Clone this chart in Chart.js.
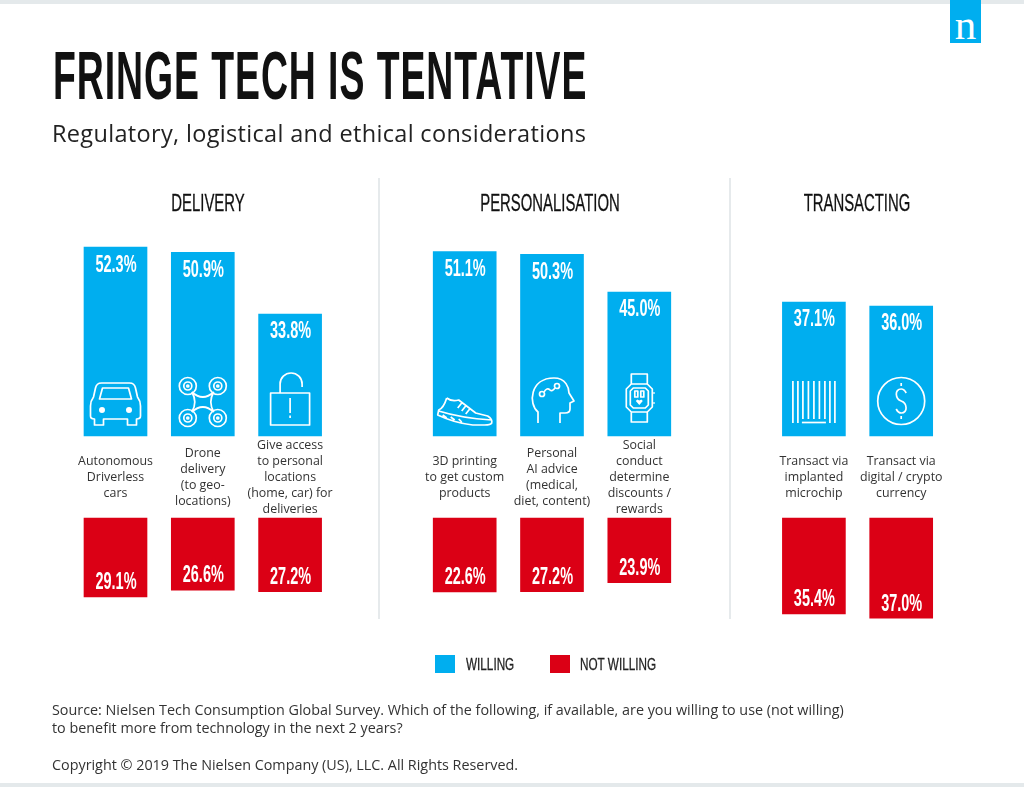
<!DOCTYPE html>
<html>
<head>
<meta charset="utf-8">
<title>Fringe tech is tentative</title>
<script src="https://cdn.jsdelivr.net/npm/chart.js@4"></script>
<style>
  html, body { margin: 0; padding: 0; background: #fff; }
  #page { position: relative; width: 1024px; height: 787px; overflow: hidden; font-family: "Open Sans", sans-serif; color: #222; }
  #page div { position: absolute; white-space: nowrap; }
  canvas { position: absolute; left: 0; top: 0; }
  .cond { font-family: "Liberation Sans Narrow", "Liberation Sans", sans-serif; transform-origin: left top; }
  .stripe { left: 0; width: 1024px; height: 4px; background: #e4e9eb; }
  .rule { top: 178px; width: 2px; height: 441px; background: #e6eaec; }
  .head { font-size: 24px; line-height: 24px; top: 191px; color: #111; -webkit-text-stroke: .3px #111; transform: translateX(-50%) scaleX(.62); transform-origin: center top; }
  .swatch { top: 655px; width: 20px; height: 18px; }
  .key { font-size: 17px; line-height: 17px; top: 656px; color: #222; -webkit-text-stroke: .3px #222; transform: scaleX(.69); }
  .src { left: 52px; font-size: 14.35px; line-height: 18px; color: #333; }
</style>
</head>
<body>
<div id="page">
  <div class="stripe" style="top:0"></div>
  <div class="stripe" style="top:783px"></div>
  <div style="left:950px;top:0;width:31px;height:43px;background:#00aeef"></div>
  <div style="left:950px;top:0;width:31px;height:43px;text-align:center;color:#fff;font:43px/50px 'Liberation Serif',serif">n</div>

  <canvas id="chart" width="1024" height="787"></canvas>

  <div class="cond" style="left:53px;top:37px;font-size:68px;line-height:76px;font-weight:bold;letter-spacing:1.7px;color:#111;transform:scaleX(.55)">FRINGE TECH IS TENTATIVE</div>
  <div style="left:52px;top:118px;font-size:23.5px;line-height:30px;letter-spacing:.33px;color:#222">Regulatory, logistical and ethical considerations</div>

  <div class="rule" style="left:378px"></div>
  <div class="rule" style="left:729px"></div>
  <div class="cond head" style="left:208px">DELIVERY</div>
  <div class="cond head" style="left:550px">PERSONALISATION</div>
  <div class="cond head" style="left:857px">TRANSACTING</div>

  <div class="swatch" style="left:435px;background:#00aeef"></div>
  <div class="cond key" style="left:466px">WILLING</div>
  <div class="swatch" style="left:550px;background:#db0015"></div>
  <div class="cond key" style="left:580px">NOT WILLING</div>

  <div class="src" style="top:701px">Source: Nielsen Tech Consumption Global Survey. Which of the following, if available, are you willing to use (not willing)</div>
  <div class="src" style="top:719px">to benefit more from technology in the next 2 years?</div>
  <div class="src" style="top:756px">Copyright © 2019 The Nielsen Company (US), LLC. All Rights Reserved.</div>
</div>

<script>
// empty slots are the gaps between the three groups
const categories = ['Autonomous', 'Drone', 'Access', '', '3D printing', 'AI advice', 'Social conduct', '', 'Microchip', 'Crypto'];
// bar lengths as drawn in the picture; two bars there do not follow their printed label
const willing = [52.3, 50.9, 33.8, null, 51.1, 50.3, 39.9, null, 37.1, 36.0];
const notWilling = [29.1, 26.6, 27.2, null, 27.3, 27.2, 23.9, null, 35.4, 37.0];
const willingLabels = ['52.3%', '50.9%', '33.8%', '', '51.1%', '50.3%', '45.0%', '', '37.1%', '36.0%'];
const notWillingLabels = ['29.1%', '26.6%', '27.2%', '', '22.6%', '27.2%', '23.9%', '', '35.4%', '37.0%'];
const captions = [
  ['Autonomous', 'Driverless', 'cars'],
  ['Drone', 'delivery', '(to geo-', 'locations)'],
  ['Give access', 'to personal', 'locations', '(home, car) for', 'deliveries'],
  [],
  ['3D printing', 'to get custom', 'products'],
  ['Personal', 'AI advice', '(medical,', 'diet, content)'],
  ['Social', 'conduct', 'determine', 'discounts /', 'rewards'],
  [],
  ['Transact via', 'implanted', 'microchip'],
  ['Transact via', 'digital / crypto', 'currency']
];

const BLUE = '#00aeef';
const RED = '#db0015';

// chart area in page pixels, and where each bar family starts
const areaTop = 230, areaBottom = 630;
const willingBase = 436, notWillingBase = 518;
const willingPx = 3.61, notWillingPx = 2.71;

function line(ctx, x1, y1, x2, y2) {
  ctx.beginPath();
  ctx.moveTo(x1, y1);
  ctx.lineTo(x2, y2);
  ctx.stroke();
}

function circle(ctx, x, y, r) {
  ctx.beginPath();
  ctx.arc(x, y, r, 0, Math.PI * 2);
  ctx.stroke();
}

// icons are drawn around (0,0) = bar centre on its base line
const icons = {
  0(ctx) {
    ctx.beginPath();
    ctx.moveTo(-14, -53);
    ctx.lineTo(14, -53);
    ctx.quadraticCurveTo(19, -53, 20, -48);
    ctx.lineTo(22, -39);
    ctx.quadraticCurveTo(25, -35, 25, -30);
    ctx.lineTo(25, -20);
    ctx.quadraticCurveTo(25, -17, 21, -17);
    ctx.lineTo(21, -11);
    ctx.lineTo(12, -11);
    ctx.lineTo(12, -17);
    ctx.lineTo(-12, -17);
    ctx.lineTo(-12, -11);
    ctx.lineTo(-21, -11);
    ctx.lineTo(-21, -17);
    ctx.quadraticCurveTo(-25, -17, -25, -20);
    ctx.lineTo(-25, -30);
    ctx.quadraticCurveTo(-25, -35, -22, -39);
    ctx.lineTo(-20, -48);
    ctx.quadraticCurveTo(-19, -53, -14, -53);
    ctx.stroke();
    ctx.beginPath();
    ctx.moveTo(-13, -48);
    ctx.lineTo(13, -48);
    ctx.lineTo(16, -37);
    ctx.lineTo(-16, -37);
    ctx.closePath();
    ctx.stroke();
    ctx.beginPath();
    ctx.arc(-13.5, -26, 3, 0, Math.PI * 2);
    ctx.arc(13.5, -26, 3, 0, Math.PI * 2);
    ctx.fill();
  },
  1(ctx) {
    [[-15, -50], [15, -50], [-15, -18], [15, -18]].forEach(([x, y]) => {
      circle(ctx, x, y, 8.5);
      circle(ctx, x, y, 4);
      circle(ctx, x, y, 1);
    });
    ctx.beginPath();
    ctx.moveTo(-11, -44);
    ctx.quadraticCurveTo(0, -34, 11, -44);
    ctx.moveTo(11, -24);
    ctx.quadraticCurveTo(0, -34, -11, -24);
    ctx.moveTo(-11, -44);
    ctx.quadraticCurveTo(-5, -34, -11, -24);
    ctx.moveTo(11, -44);
    ctx.quadraticCurveTo(5, -34, 11, -24);
    ctx.stroke();
  },
  2(ctx) {
    ctx.strokeRect(-19.5, -43, 39, 32);
    ctx.beginPath();
    ctx.moveTo(-10, -43);
    ctx.lineTo(-10, -52);
    ctx.arc(1, -52, 11, Math.PI, 0);
    ctx.lineTo(12, -49);
    ctx.stroke();
    line(ctx, 0, -38, 0, -23);
    line(ctx, 0, -20.5, 0, -18);
  },
  4(ctx) {
    ctx.beginPath();
    ctx.moveTo(-18, -38);
    ctx.quadraticCurveTo(-13, -34, -6, -36);
    ctx.lineTo(11, -23);
    ctx.lineTo(23, -20);
    ctx.quadraticCurveTo(28, -17, 27, -13);
    ctx.quadraticCurveTo(26, -11, 20, -11);
    ctx.lineTo(8, -11);
    ctx.quadraticCurveTo(-10, -13, -27, -21);
    ctx.lineTo(-26, -26);
    ctx.quadraticCurveTo(-21, -28, -18, -38);
    ctx.moveTo(-26, -25);
    ctx.quadraticCurveTo(-4, -18, 27, -16);
    ctx.moveTo(-22, -21);
    ctx.lineTo(-18, -18);
    ctx.moveTo(-14, -19);
    ctx.lineTo(-10, -16);
    ctx.moveTo(-6, -17);
    ctx.lineTo(-3, -14);
    ctx.moveTo(-3, -33);
    ctx.lineTo(-7, -28);
    ctx.moveTo(1, -30);
    ctx.lineTo(-3, -25);
    ctx.moveTo(5, -27);
    ctx.lineTo(1, -22);
    ctx.stroke();
  },
  5(ctx) {
    ctx.beginPath();
    ctx.moveTo(-14, -13);
    ctx.lineTo(-14, -24);
    ctx.bezierCurveTo(-24, -32, -22, -58, 2, -58);
    ctx.bezierCurveTo(14, -58, 17, -48, 17, -43);
    ctx.lineTo(22, -35);
    ctx.lineTo(18, -33);
    ctx.lineTo(18, -27);
    ctx.quadraticCurveTo(18, -23, 13, -23);
    ctx.lineTo(8, -23);
    ctx.lineTo(8, -13);
    ctx.stroke();
    circle(ctx, -10, -42, 2.5);
    circle(ctx, 5, -50, 2.5);
    ctx.beginPath();
    ctx.moveTo(-8, -44);
    ctx.quadraticCurveTo(-5, -49, -2, -46);
    ctx.quadraticCurveTo(0, -44, 3, -48);
    ctx.stroke();
  },
  6(ctx) {
    ctx.beginPath();
    ctx.moveTo(-8, -52);
    ctx.lineTo(-8, -62);
    ctx.lineTo(8, -62);
    ctx.lineTo(8, -52);
    ctx.moveTo(-8, -24);
    ctx.lineTo(-8, -14);
    ctx.lineTo(8, -14);
    ctx.lineTo(8, -24);
    ctx.moveTo(-8, -52);
    ctx.lineTo(8, -52);
    ctx.lineTo(13, -47);
    ctx.lineTo(13, -29);
    ctx.lineTo(8, -24);
    ctx.lineTo(-8, -24);
    ctx.lineTo(-13, -29);
    ctx.lineTo(-13, -47);
    ctx.closePath();
    ctx.moveTo(-6, -48);
    ctx.lineTo(6, -48);
    ctx.lineTo(9, -45);
    ctx.lineTo(9, -31);
    ctx.lineTo(6, -28);
    ctx.lineTo(-6, -28);
    ctx.lineTo(-9, -31);
    ctx.lineTo(-9, -45);
    ctx.closePath();
    ctx.moveTo(14, -43);
    ctx.lineTo(15.5, -43);
    ctx.moveTo(14, -33);
    ctx.lineTo(15.5, -33);
    ctx.stroke();
    ctx.strokeRect(-4.5, -45, 3, 6);
    ctx.strokeRect(1.5, -45, 3, 6);
    ctx.beginPath();
    ctx.moveTo(0, -31);
    ctx.lineTo(-3.5, -35);
    ctx.lineTo(-2, -36.5);
    ctx.lineTo(0, -35.5);
    ctx.lineTo(2, -36.5);
    ctx.lineTo(3.5, -35);
    ctx.closePath();
    ctx.fill();
  },
  8(ctx) {
    [-21, -16, 16, 21].forEach(x => line(ctx, x, -55, x, -13));
    [-11, -5.5, 0, 5.5, 11].forEach(x => line(ctx, x, -55, x, -17));
    line(ctx, -12, -13.5, 12, -13.5);
  },
  9(ctx) {
    circle(ctx, 0, -35, 23.5);
    ctx.beginPath();
    ctx.moveTo(5, -43);
    ctx.quadraticCurveTo(3, -47, 0, -47);
    ctx.bezierCurveTo(-7, -47, -6, -37, 0, -35);
    ctx.bezierCurveTo(6, -33, 7, -23, 0, -23);
    ctx.quadraticCurveTo(-3, -23, -5, -27);
    ctx.stroke();
    line(ctx, 0, -53, 0, -50);
    line(ctx, 0, -20, 0, -17);
  }
};

function valueLabel(ctx, text, x, y) {
  ctx.save();
  ctx.translate(x, y);
  ctx.scale(0.63, 1);
  ctx.fillText(text, 0, 0);
  ctx.restore();
}

const barDecor = {
  id: 'barDecor',
  afterDatasetsDraw(chart) {
    const ctx = chart.ctx;
    const blue = chart.getDatasetMeta(0).data;
    const red = chart.getDatasetMeta(1).data;

    categories.forEach((cat, i) => {
      if (!cat) return;
      const x = blue[i].x;
      const base = blue[i].base;

      ctx.save();
      ctx.fillStyle = '#fff';
      ctx.font = 'bold 23px "Liberation Sans Narrow", "Liberation Sans", sans-serif';
      ctx.textAlign = 'center';
      ctx.textBaseline = 'middle';
      valueLabel(ctx, willingLabels[i], x + 0.5, blue[i].y + 18);
      valueLabel(ctx, notWillingLabels[i], x + 0.5, red[i].y - 14);
      ctx.restore();

      ctx.save();
      ctx.translate(x, base);
      ctx.strokeStyle = '#fff';
      ctx.fillStyle = '#fff';
      ctx.lineWidth = 1.7;
      ctx.lineJoin = 'round';
      icons[i](ctx);
      ctx.restore();

      ctx.save();
      ctx.fillStyle = '#333';
      ctx.font = '12.4px "Open Sans", sans-serif';
      ctx.textAlign = 'center';
      ctx.textBaseline = 'middle';
      const lines = captions[i];
      lines.forEach((txt, k) => {
        ctx.fillText(txt, x, 477.5 + (k - (lines.length - 1) / 2) * 15.8);
      });
      ctx.restore();
    });
  }
};

new Chart(document.getElementById('chart'), {
  type: 'bar',
  data: {
    labels: categories,
    datasets: [
      { label: 'Willing', data: willing, yAxisID: 'yWilling', backgroundColor: BLUE, barThickness: 63, grouped: false },
      { label: 'Not willing', data: notWilling, yAxisID: 'yNot', backgroundColor: RED, barThickness: 63, grouped: false }
    ]
  },
  options: {
    responsive: false,
    animation: false,
    layout: { padding: { left: 71.85, right: 79.15, top: areaTop, bottom: 787 - areaBottom } },
    plugins: { legend: { display: false }, tooltip: { enabled: false } },
    scales: {
      x: { display: false },
      yWilling: {
        display: false,
        min: -(areaBottom - willingBase) / willingPx,
        max: (willingBase - areaTop) / willingPx
      },
      yNot: {
        display: false,
        reverse: true,
        min: -(notWillingBase - areaTop) / notWillingPx,
        max: (areaBottom - notWillingBase) / notWillingPx
      }
    }
  },
  plugins: [barDecor]
});
</script>
</body>
</html>
